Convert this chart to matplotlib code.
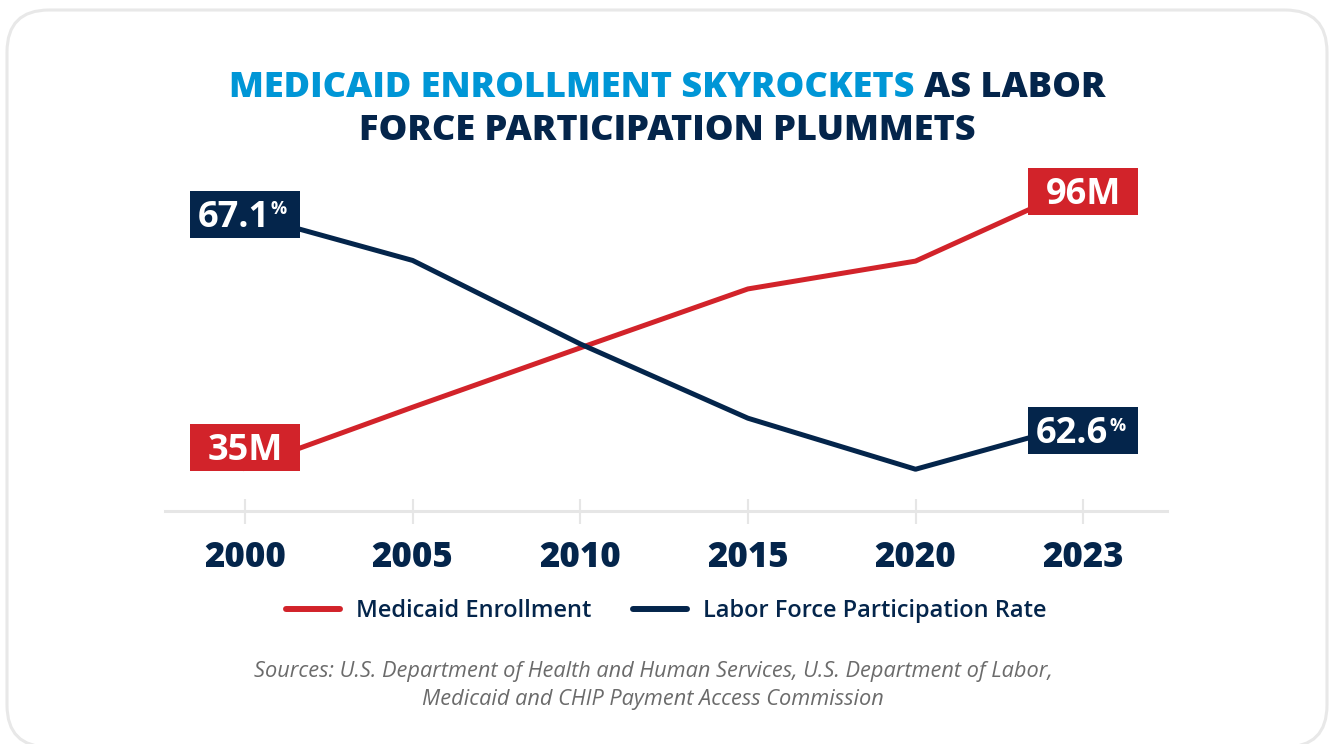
import matplotlib.pyplot as plt
import matplotlib.patches as patches
from matplotlib.lines import Line2D
from matplotlib.transforms import ScaledTranslation

plt.rcParams['font.family'] = ['Open Sans', 'DejaVu Sans']

years = ['2000', '2005', '2010', '2015', '2020', '2023']
medicaid = [35, 48.1, 60.9, 73.6, 79.6, 96]          # enrollment, millions
labor_rate = [67.1, 66.1, 64.3, 62.7, 61.6, 62.6]    # participation rate, %
label_idx = [0, 5]                                   # points that get a value box

title_blue = 'MEDICAID ENROLLMENT SKYROCKETS'
title_line1 = 'MEDICAID ENROLLMENT SKYROCKETS AS LABOR'
title_line2 = 'FORCE PARTICIPATION PLUMMETS'
source_lines = ['Sources: U.S. Department of Health and Human Services, U.S. Department of Labor,',
                'Medicaid and CHIP Payment Access Commission']

RED = '#d2232a'
NAVY = '#04254b'
BLUE = '#0096d6'
GREY = '#e6e6e6'

W, H = 1331, 744
fig = plt.figure(figsize=(W / 100, H / 100), dpi=100)


def fx(px):
    return px / W


def fy(py):
    return 1 - py / H


# rounded card outline
card = patches.FancyBboxPatch((0.07, -0.03), 13.20, 7.37, boxstyle='round,pad=0,rounding_size=0.42',
                              transform=fig.dpi_scale_trans, facecolor='white', edgecolor='#e8e8e8',
                              linewidth=2.2, zorder=0)
fig.add_artist(card)

ax = fig.add_axes([fx(165), fy(511), (1167 - 165) / W, (511 - 150) / H])
ax.patch.set_visible(False)
ax2 = ax.twinx()

x = list(range(len(years)))
ax.plot(x, medicaid, color=RED, lw=3.6, solid_joinstyle='round')
ax2.plot(x, labor_rate, color=NAVY, lw=3.6, solid_joinstyle='round')

ax.set_xlim(-0.477, 5.5)
ax.set_ylim(25.73, 103.55)
ax2.set_ylim(60.70, 68.48)

for a in (ax, ax2):
    for side in ('top', 'left', 'right', 'bottom'):
        a.spines[side].set_visible(False)
    a.set_yticks([])
ax.spines['bottom'].set_visible(True)
ax.spines['bottom'].set_color(GREY)
ax.spines['bottom'].set_linewidth(2.2)

ax.set_xticks(x, years)
ax.tick_params(axis='x', direction='inout', length=18, width=1.5, color=GREY,
               pad=12, labelsize=25, labelcolor=NAVY)
for lbl in ax.get_xticklabels():
    lbl.set_fontweight(800)


def value_box(axis, xi, yv, color, text, dy=0, pct=False):
    # box fixed in pixels around the data point, nudged vertically by dy pixels
    trans = fig.dpi_scale_trans + ScaledTranslation(xi, yv, axis.transData)
    rect = patches.Rectangle((-0.55, -0.235 + dy / 100), 1.10, 0.47, transform=trans,
                             facecolor=color, edgecolor='none', zorder=5, clip_on=False)
    ax2.add_artist(rect)
    dx = -11 if pct else 0
    ax2.annotate(text, xy=(xi, yv), xycoords=axis.transData, xytext=(dx, dy - 12.5),
                 textcoords='offset pixels', ha='center', va='baseline', fontsize=26,
                 fontweight='bold', color='white', zorder=6, annotation_clip=False)
    if pct:
        ax2.annotate('%', xy=(xi, yv), xycoords=axis.transData, xytext=(26, dy),
                     textcoords='offset pixels', ha='left', va='baseline', fontsize=13,
                     fontweight='bold', color='white', zorder=6, annotation_clip=False)


red_nudge = {0: 20.5, 5: -6.5}
navy_nudge = {0: 0, 5: -8}
for i in label_idx:
    value_box(ax, x[i], medicaid[i], RED, f'{medicaid[i]:.0f}M', dy=red_nudge[i])
    value_box(ax2, x[i], labor_rate[i], NAVY, f'{labor_rate[i]:.1f}', dy=navy_nudge[i], pct=True)

# two-colour title
TSIZE = 26
renderer = fig.canvas.get_renderer()
probe = fig.text(0, 0, title_line1, fontsize=TSIZE, fontweight=800)
full_w = probe.get_window_extent(renderer).width
probe.remove()
cx = 667
fig.text(fx(cx - full_w / 2), fy(97), title_blue, fontsize=TSIZE, fontweight=800,
         color=BLUE, ha='left', va='baseline')
fig.text(fx(cx + full_w / 2), fy(97), title_line1[len(title_blue):].strip(), fontsize=TSIZE,
         fontweight=800, color=NAVY, ha='right', va='baseline')
fig.text(fx(cx), fy(140), title_line2, fontsize=TSIZE, fontweight=800, color=NAVY,
         ha='center', va='baseline')

# legend
legend_items = [(286, 340, 356, RED, 'Medicaid Enrollment'),
                (633, 687, 703, NAVY, 'Labor Force Participation Rate')]
for x0, x1, tx, col, name in legend_items:
    fig.add_artist(Line2D([fx(x0), fx(x1)], [fy(609), fy(609)], transform=fig.transFigure,
                          color=col, lw=4.3, solid_capstyle='round'))
    fig.text(fx(tx), fy(617), name, fontsize=17, fontweight=600, color=NAVY,
             ha='left', va='baseline')

for yy, line in zip((672, 699), source_lines):
    fig.text(fx(653), fy(yy), line, fontsize=15.7, style='italic', color='#6b6b6b',
             ha='center', va='center')

fig.savefig('out.png', dpi=100)
